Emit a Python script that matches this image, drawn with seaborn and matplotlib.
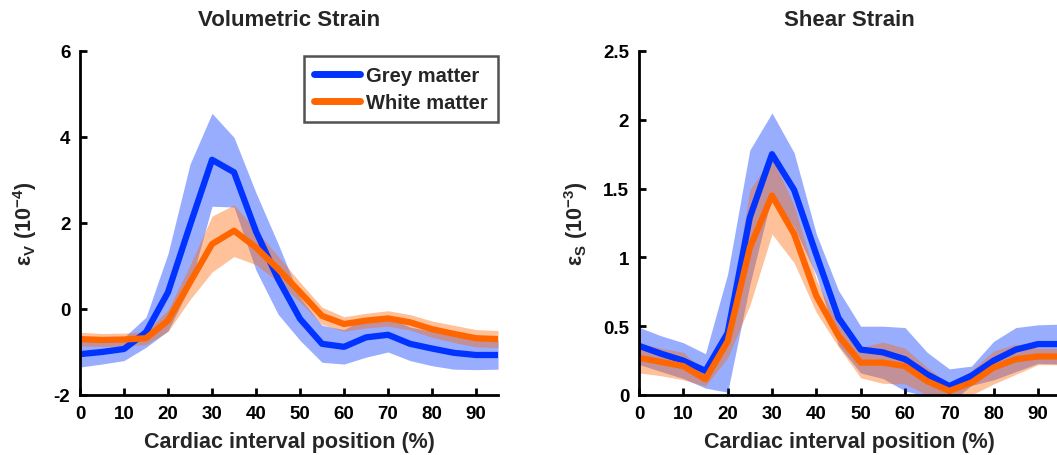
import matplotlib
matplotlib.use("Agg")
import matplotlib.pyplot as plt
import numpy as np
import pandas as pd
import seaborn as sns

# cardiac interval positions (%)
position = [0, 5, 10, 15, 20, 25, 30, 35, 40, 45, 50, 55, 60, 65, 70, 75, 80, 85, 90, 95]

# volumetric strain (10^-4): mean and half-width of shaded band
vol_grey = [-1.05, -1.0, -0.93, -0.54, 0.39, 1.95, 3.47, 3.18, 1.8, 0.7, -0.23, -0.81,
            -0.88, -0.66, -0.6, -0.81, -0.92, -1.02, -1.07, -1.07]
vol_grey_sd = [0.3, 0.28, 0.27, 0.35, 0.9, 1.42, 1.08, 0.81, 0.9, 0.82, 0.5, 0.43,
               0.4, 0.46, 0.4, 0.39, 0.4, 0.38, 0.34, 0.33]
vol_white = [-0.7, -0.72, -0.71, -0.68, -0.27, 0.62, 1.51, 1.82, 1.43, 0.93, 0.39, -0.16,
             -0.35, -0.27, -0.22, -0.31, -0.47, -0.58, -0.68, -0.7]
vol_white_sd = [0.16, 0.15, 0.15, 0.15, 0.25, 0.4, 0.65, 0.6, 0.4, 0.3, 0.23, 0.2,
                0.17, 0.17, 0.18, 0.18, 0.19, 0.2, 0.2, 0.2]

# shear strain (10^-3)
shear_grey = [0.357, 0.3, 0.25, 0.175, 0.45, 1.29, 1.75, 1.49, 1.02, 0.56, 0.33, 0.31,
              0.26, 0.15, 0.065, 0.14, 0.25, 0.33, 0.37, 0.37]
shear_grey_sd = [0.135, 0.13, 0.13, 0.125, 0.43, 0.49, 0.3, 0.27, 0.15, 0.2, 0.17, 0.19,
                 0.23, 0.16, 0.125, 0.07, 0.14, 0.16, 0.14, 0.145]
shear_white = [0.27, 0.24, 0.21, 0.115, 0.39, 1.07, 1.45, 1.17, 0.72, 0.43, 0.235, 0.235,
               0.21, 0.1, 0.03, 0.09, 0.2, 0.26, 0.28, 0.28]
shear_white_sd = [0.11, 0.1, 0.1, 0.05, 0.12, 0.42, 0.28, 0.21, 0.12, 0.08, 0.11, 0.15,
                  0.13, 0.1, 0.05, 0.09, 0.12, 0.11, 0.06, 0.06]

GREY = "#0033ff"
WHITE = "#ff6600"

sns.set_style("ticks")
plt.rcParams["font.family"] = ["Liberation Sans", "DejaVu Sans"]
plt.rcParams["font.weight"] = "bold"
plt.rcParams["axes.labelweight"] = "bold"
plt.rcParams["axes.titleweight"] = "bold"
plt.rcParams["mathtext.fontset"] = "custom"
plt.rcParams["mathtext.rm"] = "Liberation Sans:bold"
plt.rcParams["mathtext.it"] = "Liberation Sans:bold"
plt.rcParams["mathtext.bf"] = "Liberation Sans:bold"


def make_df(grey, grey_sd, white, white_sd):
    frames = []
    for name, m, s in [("Grey matter", grey, grey_sd), ("White matter", white, white_sd)]:
        frames.append(pd.DataFrame({"pos": position, "mean": m, "sd": s, "tissue": name}))
    return pd.concat(frames, ignore_index=True)


panels = [
    ("Volumetric Strain", make_df(vol_grey, vol_grey_sd, vol_white, vol_white_sd),
     r"ε$_\mathrm{V}$ (10$^\mathrm{-4}$)", (-2, 6), [-2, 0, 2, 4, 6], ["-2", "0", "2", "4", "6"]),
    ("Shear Strain", make_df(shear_grey, shear_grey_sd, shear_white, shear_white_sd),
     r"ε$_\mathrm{S}$ (10$^\mathrm{-3}$)", (0, 2.5), [0, 0.5, 1, 1.5, 2, 2.5], ["0", "0.5", "1", "1.5", "2", "2.5"]),
]

fig = plt.figure(figsize=(10.57, 4.56), dpi=100)
ax1 = fig.add_axes([0.0757, 0.1316, 0.3955, 0.7544])
ax2 = fig.add_axes([0.6045, 0.1316, 0.3985, 0.7544])

palette = {"Grey matter": GREY, "White matter": WHITE}

for ax, (title, df, ylabel, ylim, yticks, yticklabels) in zip([ax1, ax2], panels):
    for tissue in ["Grey matter", "White matter"]:
        d = df[df["tissue"] == tissue]
        ax.fill_between(d["pos"], d["mean"] - d["sd"], d["mean"] + d["sd"],
                        color=palette[tissue], alpha=0.4, linewidth=0)
    sns.lineplot(data=df, x="pos", y="mean", hue="tissue", palette=palette,
                 linewidth=4.5, ax=ax, legend=(ax is ax1))
    ax.set_xlim(0, 95)
    ax.set_ylim(*ylim)
    ax.set_xticks(range(0, 91, 10))
    ax.set_yticks(yticks)
    ax.set_yticklabels(yticklabels)
    ax.tick_params(direction="in", length=5, width=2, labelsize=13.5, colors="black", pad=7)
    for lab in ax.get_xticklabels() + ax.get_yticklabels():
        lab.set_fontweight("bold")
    sns.despine(ax=ax)
    for sp in ["left", "bottom"]:
        ax.spines[sp].set_linewidth(2)
        ax.spines[sp].set_color("black")
    ax.set_title(title, fontsize=16, pad=19, fontweight="bold")
    ax.set_xlabel("Cardiac interval position (%)", fontsize=15.5, color="#262626",
                  labelpad=7, fontweight="bold")
    ax.set_ylabel(ylabel, fontsize=15.5, color="#262626", fontweight="bold")

ax1.yaxis.set_label_coords(-0.098, 0.5)
ax2.yaxis.set_label_coords(-0.116, 0.5)

leg = ax1.legend(loc="upper right", bbox_to_anchor=(1.0, 0.985), borderaxespad=0.0,
                 fontsize=14.5, handlelength=2.3, frameon=True, fancybox=False,
                 edgecolor="#262626", borderpad=0.5, labelspacing=0.4, handletextpad=0.3)
leg.get_frame().set_linewidth(1.8)
for t in leg.get_texts():
    t.set_fontweight("bold")
for line in leg.get_lines():
    line.set_linewidth(5)

fig.savefig("out.png", dpi=100)
